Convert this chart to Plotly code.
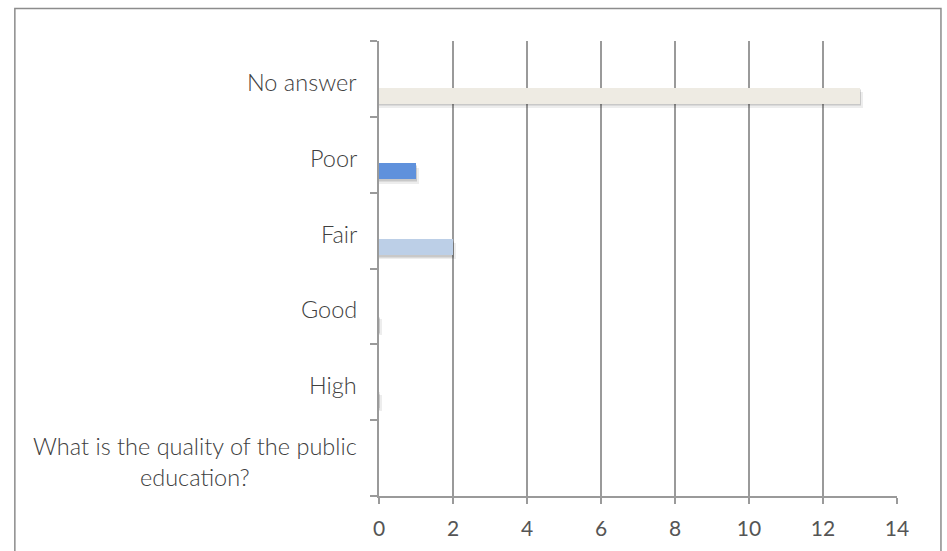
import plotly.graph_objects as go

# Survey responses, bottom to top on the category axis
categories = ["What is the quality of the public education?", "High", "Good", "Fair", "Poor", "No answer"]
labels = ["What is the quality of the public<br>education?", "High", "Good", "Fair", "Poor", "No answer"]
counts = [None, 0, 0, 2, 1, 13]
bar_colors = ["#ffffff", "#f4f4f4", "#f4f4f4", "#bccfe7", "#5f91dc", "#eeebe3"]

x_ticks = [0, 2, 4, 6, 8, 10, 12, 14]

W, H = 947, 551
PLOT_L, PLOT_R, PLOT_T, PLOT_B = 379, 897.5, 41, 496
GRID = "#9a9a9a"
TEXT = "#404040"
FONT = "Lato, 'Open Sans', sans-serif"

BAR_OFFSET = -0.326
BAR_WIDTH = 0.211

fig = go.Figure()

# soft drop shadow behind each bar
for dx, dy, alpha in [(0.07, 0.055, 0.07), (0.04, 0.035, 0.08), (0.02, 0.018, 0.08)]:
    fig.add_trace(go.Bar(
        y=categories,
        x=[None if c is None else c + dx for c in counts],
        orientation="h",
        offset=BAR_OFFSET - dy,
        width=BAR_WIDTH,
        marker=dict(color=f"rgba(0,0,0,{alpha})", line=dict(width=0)),
        hoverinfo="skip",
        showlegend=False,
    ))

fig.add_trace(go.Bar(
    y=categories,
    x=counts,
    orientation="h",
    offset=BAR_OFFSET,
    width=BAR_WIDTH,
    marker=dict(color=bar_colors, line=dict(width=0)),
    hoverinfo="skip",
    showlegend=False,
))

# category labels, centred line by line
for cat, lab in zip(categories, labels):
    fig.add_annotation(
        xref="paper", yref="y",
        x=0, y=cat,
        xshift=-20, yshift=-3,
        xanchor="right", yanchor="middle",
        align="center",
        text=lab,
        showarrow=False,
        font=dict(family=FONT, size=23.5, color=TEXT, weight=300),
    )

# outer frame
def px(v):
    return (v - PLOT_L) / (PLOT_R - PLOT_L)

def py(v):
    return (PLOT_B - v) / (PLOT_B - PLOT_T)

fig.add_shape(
    type="rect", xref="paper", yref="paper",
    x0=px(14.5), x1=px(941.5), y0=py(560), y1=py(8.5),
    line=dict(color="#8c8c8c", width=1.5),
    fillcolor="rgba(0,0,0,0)",
    layer="above",
)

fig.update_layout(
    width=W, height=H,
    margin=dict(l=PLOT_L, r=W - PLOT_R, t=PLOT_T, b=H - PLOT_B, pad=0, autoexpand=False),
    paper_bgcolor="white",
    plot_bgcolor="white",
    barmode="overlay",
    bargap=0,
    font=dict(family=FONT, color=TEXT),
    xaxis=dict(
        range=[0, 14],
        tickvals=x_ticks,
        ticktext=[str(t) for t in x_ticks],
        showgrid=True, gridcolor=GRID, gridwidth=1.5,
        zeroline=False,
        showline=True, linecolor=GRID, linewidth=1.5,
        ticks="outside", ticklen=6, tickcolor=GRID, tickwidth=1.5,
        tickfont=dict(family=FONT, size=21, color="#555555", weight=400),
        ticklabelstandoff=7,
        fixedrange=True,
    ),
    yaxis=dict(
        type="category",
        categoryorder="array", categoryarray=categories,
        range=[-0.5, 5.5],
        showgrid=False, zeroline=False,
        showline=True, linecolor=GRID, linewidth=1.5,
        ticks="outside", tickson="boundaries", ticklen=7, tickcolor=GRID, tickwidth=1.5,
        showticklabels=False,
        fixedrange=True,
    ),
)

fig.write_html("out.html")
